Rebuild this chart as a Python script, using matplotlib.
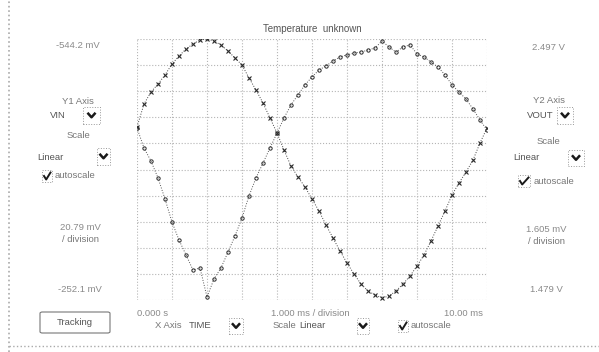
import numpy as np
import matplotlib.pyplot as plt
from matplotlib.patches import Rectangle, FancyBboxPatch
from matplotlib.lines import Line2D

plt.rcParams['font.family'] = ['Liberation Sans', 'DejaVu Sans']

# ---------------------------------------------------------------------------
# data (time in ms, VIN in mV, VOUT in V)
# ---------------------------------------------------------------------------
time_ms = [0.0, 0.2, 0.4, 0.6, 0.8, 1.0, 1.2, 1.4, 1.6, 1.8,
           2.0, 2.2, 2.4, 2.6, 2.8, 3.0, 3.2, 3.4, 3.6, 3.8,
           4.0, 4.2, 4.4, 4.6, 4.8, 5.0, 5.2, 5.4, 5.6, 5.8,
           6.0, 6.2, 6.4, 6.6, 6.8, 7.0, 7.2, 7.4, 7.6, 7.8,
           8.0, 8.2, 8.4, 8.6, 8.8, 9.0, 9.2, 9.4, 9.6, 9.8, 10.0]

vin_mv = [275.7, 345.9, 382.5, 406.9, 434.4, 467.9, 492.3, 513.7, 529.0, 541.2,
          544.0, 538.1, 525.9, 507.6, 486.2, 464.9, 425.2, 388.6, 348.9, 303.2,
          257.4, 205.6, 156.7, 123.2, 92.7, 56.1, 19.4, -23.3, -62.9, -102.6,
          -139.2, -172.8, -203.3, -224.6, -236.8, -246.0, -239.9, -224.6, -203.3, -178.9,
          -148.4, -114.8, -72.1, -26.3, 19.4, 68.3, 104.9, 138.4, 175.0, 226.9, 272.7]

vout_v = [2.150, 2.072, 2.021, 1.955, 1.873, 1.783, 1.713, 1.655, 1.596, 1.604,
          1.491, 1.561, 1.604, 1.666, 1.729, 1.799, 1.885, 1.955, 2.013, 2.072,
          2.130, 2.189, 2.240, 2.279, 2.318, 2.349, 2.376, 2.392, 2.411, 2.427,
          2.435, 2.442, 2.446, 2.454, 2.462, 2.489, 2.466, 2.446, 2.466, 2.474,
          2.439, 2.427, 2.407, 2.388, 2.357, 2.318, 2.290, 2.263, 2.224, 2.181, 2.142]

y1_range = (-252.1, 544.2)
y2_range = (1.479, 2.497)
x_range = (0.0, 10.0)

W, H = 599, 352


def px(x, y):
    # pixel position (y from top) -> figure fraction
    return x / W, 1 - y / H


def label(x, y, s, size=6.8, color='#8a8a8a', ha='center', **kw):
    fx, fy = px(x, y)
    fig.text(fx, fy, s, fontsize=size, color=color, ha=ha, va='center', **kw)


def chevron(cx, cy):
    xs = [cx - 3.2, cx, cx + 3.2]
    ys = [cy - 1.8, cy + 1.8, cy - 1.8]
    fx = [x / W for x in xs]
    fy = [1 - y / H for y in ys]
    fig.add_artist(Line2D(fx, fy, color='#1a1a1a', lw=1.8,
                          transform=fig.transFigure))


def dotted_box(x0, y0, x1, y1):
    fx0, fy1 = px(x0, y1)
    fig.add_artist(Rectangle((fx0, fy1), (x1 - x0) / W, (y1 - y0) / H,
                             fill=False, ec='#999999', lw=0.7, ls=':',
                             transform=fig.transFigure))


def checkbox(x0, y0, x1, y1):
    dotted_box(x0, y0, x1, y1)
    xs = [x0 + 2, x0 + 4.2, x1 - 1.5]
    ys = [y0 + 6, y1 - 2.5, y0 + 2.5]
    fig.add_artist(Line2D([x / W for x in xs], [1 - y / H for y in ys],
                          color='#1a1a1a', lw=1.4, transform=fig.transFigure))


fig = plt.figure(figsize=(W / 100, H / 100), dpi=100)
fig.patch.set_facecolor('white')

# plot area
l, b = px(137, 300)
ax = fig.add_axes([l, b, 350 / W, 261 / H])
ax.set_xlim(*x_range)
ax.set_ylim(*y1_range)
ax.set_xticks(np.linspace(x_range[0], x_range[1], 11))
ax.set_yticks(np.linspace(y1_range[0], y1_range[1], 11))
ax.tick_params(length=0, labelbottom=False, labelleft=False)
ax.grid(True, color='#b5b5b5', ls=':', lw=0.8)
for s in ax.spines.values():
    s.set_visible(False)

ax.plot(time_ms, vin_mv, color='#444444', lw=0.7, ls=':', marker='x',
        ms=2.2, mew=0.8, mec='#2a2a2a', zorder=3)

ax2 = ax.twinx()
ax2.set_ylim(*y2_range)
ax2.set_yticks([])
for s in ax2.spines.values():
    s.set_visible(False)
ax2.plot(time_ms, vout_v, color='#555555', lw=0.7, ls=':', marker='o',
         ms=2.4, mfc='none', mew=0.7, mec='#2a2a2a', zorder=3)

label(312, 29, 'Temperature  unknown', size=7, color='#555555')

# left panel
label(78, 46, '-544.2 mV')
label(78, 102, 'Y1 Axis', color='#777777')
label(50, 116, 'VIN', ha='left', color='#555555')
dotted_box(83, 107, 100, 124)
chevron(91.5, 115.5)
label(78, 136, 'Scale', color='#777777')
label(37, 157, 'Linear', ha='left', color='#555555')
dotted_box(97, 148, 110, 165)
chevron(103.5, 156.5)
checkbox(42, 170, 52, 182)
label(55, 176, 'autoscale', ha='left', color='#777777')
label(80, 228, '20.79 mV')
label(80, 240, '/ division', color='#777777')
label(80, 290, '-252.1 mV')
bx, by = px(40, 333)
fig.add_artist(FancyBboxPatch((bx, by), 70 / W, 21 / H,
                              boxstyle='round,pad=0,rounding_size=0.004',
                              fill=False, ec='#777777', lw=0.8,
                              transform=fig.transFigure))
label(75, 322.5, 'Tracking', color='#555555')

# right panel
label(549, 47, '2.497 V')
label(549, 101, 'Y2 Axis', color='#777777')
label(527, 116, 'VOUT', ha='left', color='#555555')
dotted_box(557, 107, 573, 124)
chevron(565, 115.5)
label(548, 141, 'Scale', color='#777777')
label(513, 158, 'Linear', ha='left', color='#555555')
dotted_box(568, 150, 584, 166)
chevron(576, 158)
checkbox(518, 175, 530, 187)
label(534, 181, 'autoscale', ha='left', color='#777777')
label(546, 230, '1.605 mV')
label(546, 242, '/ division', color='#777777')
label(546, 290, '1.479 V')

# bottom row
label(155, 326, 'X Axis', ha='left', color='#777777')
label(189, 326, 'TIME', ha='left', color='#555555')
dotted_box(229, 318, 243, 334)
chevron(236, 326)
label(273, 326, 'Scale', ha='left', color='#777777')
label(299, 326, 'Linear', ha='left', color='#555555')
dotted_box(357, 318, 369, 334)
chevron(363, 326)
checkbox(398, 320, 408, 332)
label(411, 326, 'autoscale', ha='left', color='#777777')
label(137, 313, '0.000 s', ha='left')
label(310, 313, '1.000 ms / division')
label(483, 313, '10.00 ms', ha='right')

# panel borders
fig.add_artist(Line2D([9 / W, 9 / W], [0, 1], color='#aaaaaa', lw=1.2, ls=':',
                      transform=fig.transFigure))
fig.add_artist(Line2D([9 / W, 1], [1 - 346 / H, 1 - 346 / H], color='#aaaaaa',
                      lw=1.0, ls=':', transform=fig.transFigure))

fig.savefig('out.png', dpi=100)
